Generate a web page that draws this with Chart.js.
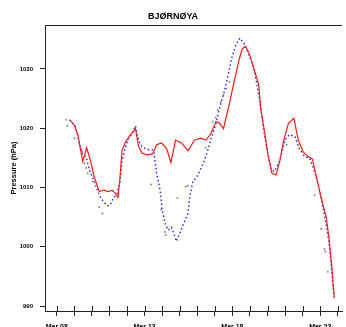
<!DOCTYPE html>
<html><head><meta charset="utf-8">
<script src="https://cdn.jsdelivr.net/npm/chart.js@4/dist/chart.umd.min.js"></script>
<style>html,body{margin:0;padding:0;background:#fff}#wrap{width:346px;height:327px}</style>
</head><body><div id="wrap"><canvas id="c" width="346" height="327"></canvas></div>
<script>
const titleText = "BJØRNØYA";
const yAxisTitle = "Pressure (hPa)";
const yTickValues = [990, 1000, 1010, 1020, 1030];
const xTickLabels = {0: "Mar 08", 5: "Mar 13", 10: "Mar 18", 15: "Mar 23"};
const xDayTicks = [0,1,2,3,4,5,6,7,8,9,10,11,12,13,14,15,16];

const redDays = [0.73,1.01,1.20,1.39,1.48,1.70,1.91,2.13,2.42,2.70,2.88,3.16,3.31,3.48,3.58,3.72,3.92,4.20,4.48,4.66,4.85,5.13,5.47,5.69,5.97,6.25,6.50,6.76,7.10,7.47,7.85,8.22,8.50,8.78,9.06,9.25,9.49,9.81,10.10,10.38,10.56,10.75,10.94,11.22,11.50,11.60,11.78,12.01,12.25,12.49,12.71,12.90,13.19,13.50,13.75,14.03,14.31,14.55,14.78,15.06,15.34,15.49,15.62,15.71,15.80];
const redValues = [1021.4,1020.5,1018.9,1015.8,1014.4,1016.7,1014.6,1011.8,1009.3,1009.6,1009.3,1009.5,1009.1,1008.3,1011.0,1016.3,1017.7,1018.9,1019.9,1016.9,1015.8,1015.5,1015.7,1017.2,1017.5,1016.6,1014.2,1018.0,1017.5,1016.2,1018.0,1018.3,1018.0,1019.1,1021.1,1020.9,1019.9,1023.9,1027.9,1031.5,1033.4,1033.8,1032.7,1030.1,1027.3,1023.5,1020.3,1015.8,1012.4,1012.1,1014.6,1017.7,1020.8,1021.7,1018.0,1016.0,1015.2,1014.8,1011.8,1008.2,1005.0,1001.7,997.8,994.9,991.3];

const blueDays = [0.73,1.05,1.29,1.48,1.67,1.85,2.13,2.42,2.66,2.88,3.03,3.22,3.44,3.60,3.72,3.92,4.10,4.29,4.48,4.66,4.85,5.13,5.51,5.69,5.88,6.01,6.16,6.35,6.53,6.69,6.81,7.01,7.19,7.47,7.57,7.75,7.94,8.13,8.41,8.60,8.82,9.04,9.25,9.54,9.76,9.96,10.19,10.43,10.66,10.94,11.22,11.40,11.59,11.78,12.01,12.20,12.39,12.64,12.81,13.00,13.24,13.56,13.80,14.12,14.40,14.59,14.81,15.00,15.34,15.49,15.62,15.71,15.80];
const blueValues = [1021.4,1020.3,1017.5,1015.5,1015.2,1013.0,1011.0,1008.7,1007.6,1006.9,1007.0,1008.2,1009.0,1011.0,1014.6,1016.9,1018.3,1019.1,1020.4,1017.9,1016.9,1016.4,1016.3,1012.4,1009.6,1006.2,1004.0,1002.8,1003.3,1002.0,1000.9,1002.3,1003.7,1005.6,1008.4,1011.0,1011.6,1012.7,1014.6,1016.3,1018.6,1020.5,1023.2,1026.2,1029.0,1031.8,1034.0,1035.2,1034.3,1032.4,1030.1,1027.3,1024.0,1019.7,1015.8,1013.0,1012.7,1014.1,1015.8,1018.0,1018.9,1018.6,1016.6,1015.2,1014.9,1013.5,1011.3,1009.0,1003.7,1000.9,997.2,993.8,991.6];

const grayDays = [0.54,0.60,1.01,1.44,1.57,1.67,1.76,2.04,2.42,2.60,5.38,5.94,6.16,6.20,6.87,7.34,7.47,8.48,8.88,9.05,9.16,9.33,9.49,9.66,9.83,13.09,14.68,15.06,15.24,15.30,15.43];
const grayValues = [1021.4,1020.4,1018.3,1016.0,1014.1,1013.3,1012.4,1011.0,1006.7,1005.6,1010.5,1006.3,1002.5,1002.0,1008.2,1010.1,1010.3,1016.7,1021.1,1021.8,1023.1,1024.4,1025.6,1026.7,1027.8,1017.2,1008.7,1003.0,999.6,999.2,995.8];

const pts = (xs, ys) => xs.map((x, i) => ({x: x, y: ys[i]}));
const FONT = "'Liberation Sans', Arial, sans-serif";

const framePlugin = {
  id: 'frame',
  afterDraw(chart) {
    const ctx = chart.ctx, a = chart.chartArea, xs = chart.scales.x;
    ctx.save();
    ctx.strokeStyle = '#222';
    ctx.lineWidth = 1;
    ctx.beginPath();
    ctx.moveTo(a.left, a.top + 0.5); ctx.lineTo(a.right, a.top + 0.5);
    xs.ticks.forEach(t => {
      const px = Math.round(xs.getPixelForValue(t.value)) + 0.5;
      ctx.moveTo(px, a.bottom); ctx.lineTo(px, a.bottom - 5);
    });
    ctx.stroke();
    ctx.restore();
  }
};

new Chart(document.getElementById('c'), {
  type: 'scatter',
  data: {
    datasets: [
      {label: 'obs', data: pts(redDays, redValues), showLine: true, borderColor: '#ff1a1a', borderWidth: 1.2, pointRadius: 0, tension: 0, order: 0},
      {label: 'm1', data: pts(blueDays, blueValues), showLine: true, borderColor: '#2020ff', borderWidth: 1.4, borderDash: [1.5, 2.5], pointRadius: 0, tension: 0, order: 1},
      {label: 'm2', data: pts(grayDays, grayValues), showLine: false, backgroundColor: '#8a8a8a', borderWidth: 0, pointRadius: 1, order: 2}
    ]
  },
  options: {
    responsive: false,
    animation: false,
    events: [],
    layout: {padding: {left: 0, right: 0, top: 0, bottom: 0}},
    plugins: {
      legend: {display: false},
      tooltip: {enabled: false},
      title: {display: true, text: titleText, color: '#000', font: {family: FONT, size: 9, weight: 'bold', lineHeight: 1}, padding: {top: 12, bottom: 4}}
    },
    scales: {
      x: {
        type: 'linear', min: -0.67, max: 16.24,
        afterFit(s) { s.height = 16; },
        afterBuildTicks(s) { s.ticks = xDayTicks.map(v => ({value: v})); },
        grid: {drawOnChartArea: false, tickLength: 5, color: '#222', tickColor: '#222', lineWidth: 1},
        border: {display: true, color: '#222', width: 1},
        ticks: {autoSkip: false, maxRotation: 0, padding: 7, color: '#000', font: {family: FONT, size: 7, weight: 'bold'},
          callback: v => xTickLabels[v] || ''}
      },
      y: {
        type: 'linear', min: 989.16, max: 1037.4,
        afterFit(s) { s.width = 45; },
        afterBuildTicks(s) { s.ticks = yTickValues.map(v => ({value: v})); },
        grid: {drawOnChartArea: false, tickLength: 5, color: '#222', tickColor: '#222', lineWidth: 1},
        border: {display: true, color: '#222', width: 1},
        title: {display: true, text: yAxisTitle, color: '#000', font: {family: FONT, size: 7.5, weight: 'bold', lineHeight: 1}, padding: {top: 10, bottom: 0}},
        ticks: {padding: 7, color: '#000', font: {family: FONT, size: 6, weight: 'bold'}, callback: v => String(v)}
      }
    }
  },
  plugins: [framePlugin]
});
</script>
</body></html>
